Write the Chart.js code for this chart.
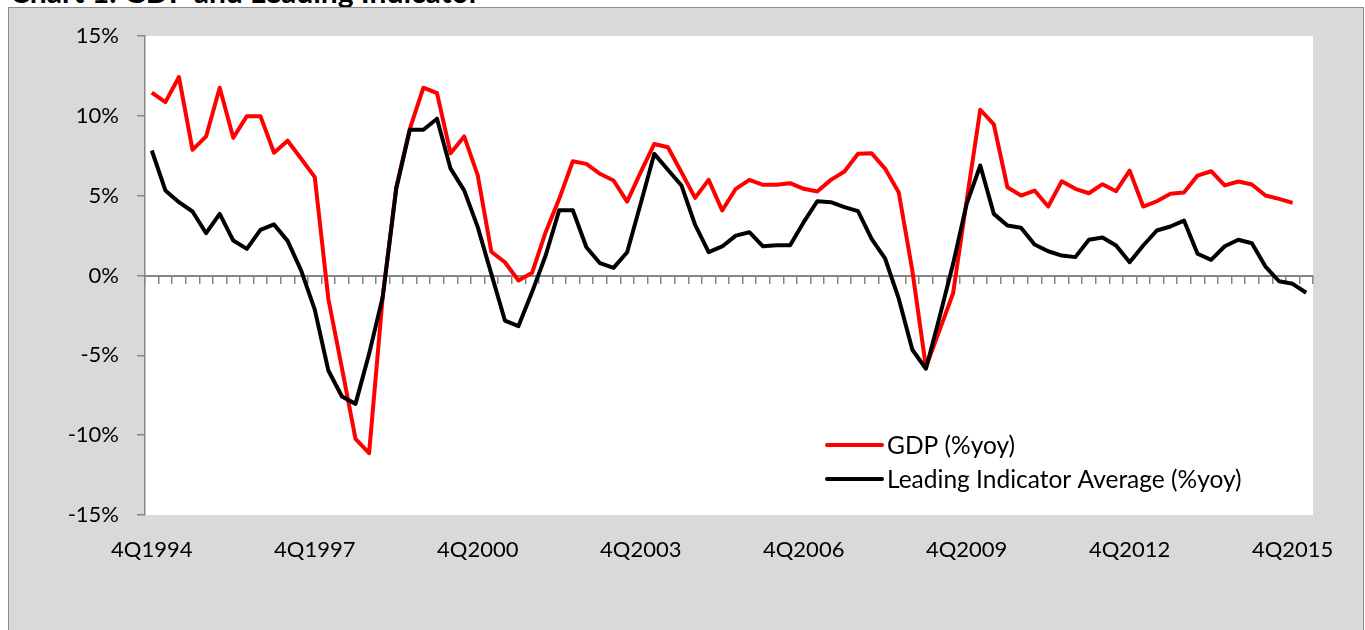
<!DOCTYPE html>
<html>
<head>
<meta charset="utf-8">
<script src="https://cdn.jsdelivr.net/npm/chart.js@4.4.1/dist/chart.umd.min.js"></script>
<style>
  body { margin: 0; background: #fff; width: 1365px; height: 630px; overflow: hidden; position: relative; font-family: Lato, sans-serif; }
  #title { position: absolute; left: 10px; top: -24px; font: bold 30px/30px Lato, sans-serif; color: #000; white-space: nowrap; }
  #frame { position: absolute; left: 8px; top: 7px; width: 1354px; height: 640px; border: 1px solid #8c8c8c; background: #d9d9d9; }
  #chart { display: block; }
</style>
</head>
<body>
<div id="title">Chart 1: GDP and Leading Indicator</div>
<div id="frame"><canvas id="chart" width="1354" height="622"></canvas></div>
<script>
// quarters, 4Q1994 .. 1Q2016
var quarters = [
  '4Q1994',
  '1Q1995', '2Q1995', '3Q1995', '4Q1995', '1Q1996', '2Q1996', '3Q1996', '4Q1996',
  '1Q1997', '2Q1997', '3Q1997', '4Q1997', '1Q1998', '2Q1998', '3Q1998', '4Q1998',
  '1Q1999', '2Q1999', '3Q1999', '4Q1999', '1Q2000', '2Q2000', '3Q2000', '4Q2000',
  '1Q2001', '2Q2001', '3Q2001', '4Q2001', '1Q2002', '2Q2002', '3Q2002', '4Q2002',
  '1Q2003', '2Q2003', '3Q2003', '4Q2003', '1Q2004', '2Q2004', '3Q2004', '4Q2004',
  '1Q2005', '2Q2005', '3Q2005', '4Q2005', '1Q2006', '2Q2006', '3Q2006', '4Q2006',
  '1Q2007', '2Q2007', '3Q2007', '4Q2007', '1Q2008', '2Q2008', '3Q2008', '4Q2008',
  '1Q2009', '2Q2009', '3Q2009', '4Q2009', '1Q2010', '2Q2010', '3Q2010', '4Q2010',
  '1Q2011', '2Q2011', '3Q2011', '4Q2011', '1Q2012', '2Q2012', '3Q2012', '4Q2012',
  '1Q2013', '2Q2013', '3Q2013', '4Q2013', '1Q2014', '2Q2014', '3Q2014', '4Q2014',
  '1Q2015', '2Q2015', '3Q2015', '4Q2015', '1Q2016'
];

// labels shown under the axis
var shownLabels = ['4Q1994', '4Q1997', '4Q2000', '4Q2003', '4Q2006', '4Q2009', '4Q2012', '4Q2015'];

// y axis ticks (%)
var yTicks = [-15, -10, -5, 0, 5, 10, 15];

// GDP (%yoy)
var gdp = [
  11.45,
  10.86, 12.43, 7.87, 8.71, 11.76, 8.63, 9.98, 9.98,
  7.69, 8.44, 7.31, 6.16, -1.46, -5.8, -10.23, -11.13,
  -1.36, 5.53, 9.19, 11.76, 11.42, 7.66, 8.71, 6.27,
  1.49, 0.83, -0.31, 0.17, 2.71, 4.8, 7.16, 6.99,
  6.37, 5.95, 4.63, 6.47, 8.24, 8.03, 6.47, 4.86,
  5.99, 4.07, 5.43, 5.99, 5.68, 5.68, 5.78, 5.43,
  5.26, 5.99, 6.51, 7.62, 7.66, 6.68, 5.2, 0.3,
  -5.74, -3.44, -1.11, 4.7, 10.38, 9.46, 5.53, 5.01,
  5.32, 4.32, 5.9, 5.43, 5.15, 5.72, 5.28, 6.57,
  4.32, 4.65, 5.12, 5.2, 6.26, 6.53, 5.64, 5.89,
  5.7, 5.01, 4.8, 4.55, null
];

// Leading Indicator Average (%yoy)
var leading = [
  7.83,
  5.33, 4.59, 4.01, 2.65, 3.86, 2.19, 1.67, 2.86,
  3.2, 2.17, 0.31, -2.14, -5.95, -7.58, -8.04, -4.91,
  -1.36, 5.43, 9.13, 9.13, 9.82, 6.69, 5.33, 3.03,
  0.1, -2.82, -3.17, -1.04, 1.25, 4.09, 4.09, 1.77,
  0.77, 0.48, 1.46, 4.51, 7.62, 6.62, 5.64, 3.18,
  1.46, 1.82, 2.5, 2.71, 1.83, 1.9, 1.9, 3.34,
  4.65, 4.59, 4.28, 4.03, 2.3, 1.05, -1.45, -4.65,
  -5.84, -2.61, 0.73, 4.49, 6.89, 3.86, 3.13, 2.99,
  1.94, 1.52, 1.25, 1.15, 2.24, 2.38, 1.88, 0.83,
  1.88, 2.82, 3.07, 3.44, 1.36, 0.98, 1.83, 2.24,
  2.02, 0.56, -0.36, -0.52, -1.08
];

var axisGray = '#868686';
var labelFont = { family: 'Lato', size: 22 };

// white plot area on the grey chart background
var plotBackground = {
  id: 'plotBackground',
  beforeDraw: function (chart) {
    var a = chart.chartArea, ctx = chart.ctx;
    ctx.save();
    ctx.fillStyle = '#ffffff';
    ctx.fillRect(a.left, a.top, a.right - a.left, a.bottom - a.top);
    ctx.restore();
  }
};

// legend drawn inside the plot, lower right
var innerLegend = {
  id: 'innerLegend',
  afterDatasetsDraw: function (chart) {
    var a = chart.chartArea, ctx = chart.ctx;
    var x0 = a.left + 682, y0 = a.bottom - 70, rowGap = 34;
    ctx.save();
    ctx.font = '24.5px Lato';
    ctx.textBaseline = 'middle';
    ctx.textAlign = 'left';
    chart.data.datasets.forEach(function (ds, i) {
      var y = y0 + i * rowGap;
      ctx.strokeStyle = ds.borderColor;
      ctx.lineWidth = 4;
      ctx.lineCap = 'round';
      ctx.beginPath();
      ctx.moveTo(x0, y);
      ctx.lineTo(x0 + 55, y);
      ctx.stroke();
      ctx.fillStyle = '#000';
      ctx.fillText(ds.label, x0 + 60, y + 1);
    });
    ctx.restore();
  }
};

new Chart(document.getElementById('chart').getContext('2d'), {
  type: 'line',
  data: {
    labels: quarters,
    datasets: [{
      label: 'GDP (%yoy)',
      data: gdp,
      borderColor: '#ff0000',
      backgroundColor: '#ff0000',
      borderWidth: 4,
      pointRadius: 0,
      tension: 0,
      borderJoinStyle: 'round',
      order: 1
    }, {
      label: 'Leading Indicator Average (%yoy)',
      data: leading,
      borderColor: '#000000',
      backgroundColor: '#000000',
      borderWidth: 4,
      pointRadius: 0,
      tension: 0,
      borderJoinStyle: 'round',
      order: 0
    }]
  },
  plugins: [plotBackground, innerLegend],
  options: {
    responsive: false,
    animation: false,
    layout: { padding: { left: 0, right: 50, top: 28, bottom: 35 } },
    plugins: { legend: { display: false }, tooltip: { enabled: false } },
    scales: {
      x: {
        type: 'category',
        offset: true,
        position: 'bottom',
        grid: { display: false, drawTicks: false },
        border: { display: false },
        ticks: {
          autoSkip: false, maxRotation: 0, minRotation: 0,
          color: '#000', font: labelFont, padding: 22,
          callback: function (v, i) {
            var q = quarters[i];
            return shownLabels.indexOf(q) >= 0 ? q : '';
          }
        },
        afterFit: function (s) { s.height = 80; }
      },
      zeroAxis: {
        type: 'category',
        axis: 'x',
        offset: true,
        position: { y: 0 },
        grid: { display: true, offset: true, drawOnChartArea: false, drawTicks: true, tickLength: 7, color: axisGray, lineWidth: 1.5 },
        border: { display: true, color: axisGray, width: 2 },
        ticks: { display: false },
        afterFit: function (s) { s.height = 0; }
      },
      y: {
        min: -15, max: 15,
        afterBuildTicks: function (s) { s.ticks = yTicks.map(function (v) { return { value: v }; }); },
        grid: { drawOnChartArea: false, drawTicks: true, tickLength: 8, color: axisGray, lineWidth: 1.5 },
        border: { display: true, color: axisGray, width: 1.5 },
        ticks: {
          color: '#000', font: labelFont, padding: 18,
          callback: function (v) { return v + '%'; }
        },
        afterFit: function (s) {
          s.width = 136;
          s.paddingTop = 0;
          s.paddingBottom = 0;
        }
      }
    }
  }
});
</script>
</body>
</html>
